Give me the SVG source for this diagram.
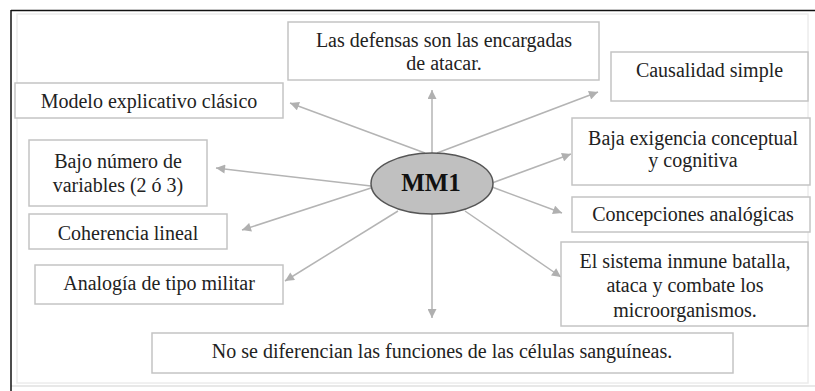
<svg xmlns="http://www.w3.org/2000/svg" width="815" height="391" viewBox="0 0 815 391">
<style>
.box{fill:#fff;stroke:#c4c4c4;stroke-width:1.5}
.t{font-family:"Liberation Serif","Times New Roman",serif;font-size:20px;fill:#222;text-anchor:middle}
.c{stroke:#b4b4b4;stroke-width:1.5;fill:none;marker-end:url(#ah)}
</style>
<defs>
<marker id="ah" viewBox="0 0 10 10" refX="10" refY="5" markerWidth="10" markerHeight="9" markerUnits="userSpaceOnUse" orient="auto">
<path d="M0,0 L10,5 L0,10 z" fill="#b0b0b0"/>
</marker>
</defs>
<rect x="0" y="0" width="815" height="391" fill="#fff"/>
<g id="frame">
<rect x="17" y="14" width="791" height="369" fill="none" stroke="#ececec" stroke-width="1.5"/>
<line x1="11" y1="386" x2="815" y2="386" stroke="#e0e0e0" stroke-width="1.5"/>
<line x1="11" y1="10.5" x2="815" y2="10.5" stroke="#111" stroke-width="1.5"/>
<line x1="11" y1="10" x2="11" y2="391" stroke="#111" stroke-width="1.5"/>
</g>
<g id="connectors">
<line class="c" x1="432" y1="153" x2="432" y2="90"/>
<line class="c" x1="437" y1="153" x2="598" y2="92"/>
<line class="c" x1="425" y1="153" x2="290" y2="103"/>
<line class="c" x1="371" y1="186" x2="216" y2="168"/>
<line class="c" x1="371" y1="188" x2="242" y2="230"/>
<line class="c" x1="398" y1="211" x2="285" y2="281"/>
<line class="c" x1="432" y1="214" x2="432" y2="318"/>
<line class="c" x1="465" y1="211" x2="561" y2="277"/>
<line class="c" x1="492" y1="187" x2="562" y2="213"/>
<line class="c" x1="492" y1="183" x2="571" y2="154"/>
</g>
<g id="n-defensas">
<rect class="box" x="288" y="22" width="311" height="58"/>
<text class="t" x="444" y="47">Las defensas son las encargadas</text>
<text class="t" x="444" y="70">de atacar.</text>
</g>
<g id="n-causalidad">
<rect class="box" x="611" y="52" width="197" height="49"/>
<text class="t" x="709.5" y="77">Causalidad simple</text>
</g>
<g id="n-modelo">
<rect class="box" x="15" y="83" width="268" height="35"/>
<text class="t" x="149" y="108">Modelo explicativo clásico</text>
</g>
<g id="n-bajo">
<rect class="box" x="29" y="140" width="178" height="66"/>
<text class="t" x="118" y="168">Bajo número de</text>
<text class="t" x="118" y="192">variables (2 ó 3)</text>
</g>
<g id="n-exigencia">
<rect class="box" x="572" y="118" width="238" height="67"/>
<text class="t" x="693" y="145">Baja exigencia conceptual</text>
<text class="t" x="693" y="167">y cognitiva</text>
</g>
<g id="n-coherencia">
<rect class="box" x="29" y="214" width="198" height="35"/>
<text class="t" x="128" y="240">Coherencia lineal</text>
</g>
<g id="n-concepciones">
<rect class="box" x="572" y="197" width="238" height="35"/>
<text class="t" x="693" y="221">Concepciones analógicas</text>
</g>
<g id="n-sistema">
<rect class="box" x="561" y="242" width="247" height="84"/>
<text class="t" x="685" y="268">El sistema inmune batalla,</text>
<text class="t" x="685" y="292">ataca y combate los</text>
<text class="t" x="685" y="317">microorganismos.</text>
</g>
<g id="n-analogia">
<rect class="box" x="35" y="265" width="248" height="39"/>
<text class="t" x="159" y="290">Analogía de tipo militar</text>
</g>
<g id="n-funciones">
<rect class="box" x="152" y="333" width="581" height="40"/>
<text class="t" x="442" y="358">No se diferencian las funciones de las células sanguíneas.</text>
</g>
<g id="n-mm1">
<ellipse cx="432" cy="183.5" rx="61" ry="30.5" fill="#c0c0c0" stroke="#555" stroke-width="1.5"/>
<text x="431" y="191" style="font-family:'Liberation Serif','Times New Roman',serif;font-size:25px;font-weight:bold;fill:#111;text-anchor:middle">MM1</text>
</g>
</svg>
